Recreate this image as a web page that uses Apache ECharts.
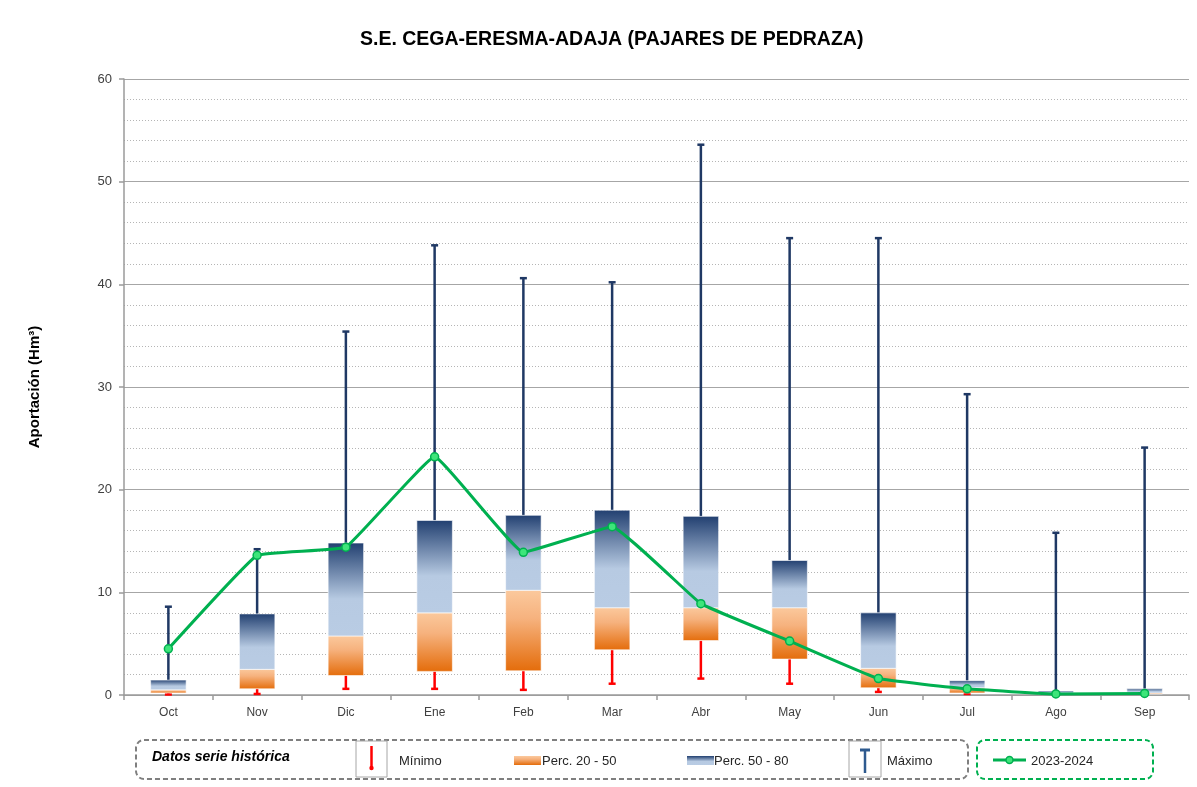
<!DOCTYPE html>
<html>
<head>
<meta charset="utf-8">
<script src="https://cdn.jsdelivr.net/npm/echarts@6/dist/echarts.min.js"></script>
<style>
html, body { margin: 0; padding: 0; background: #fff; }
#main { width: 1197px; height: 787px; }
</style>
</head>
<body>
<div id="main"></div>
<script>
// meses del año hidrológico
var months = ['Oct', 'Nov', 'Dic', 'Ene', 'Feb', 'Mar', 'Abr', 'May', 'Jun', 'Jul', 'Ago', 'Sep'];

// serie histórica (Hm3)
var minimo = [0.05, 0.1, 0.6, 0.6, 0.5, 1.1, 1.6, 1.1, 0.3, 0.1, 0.0, 0.05];
var perc20 = [0.2, 0.6, 1.9, 2.3, 2.35, 4.4, 5.3, 3.5, 0.7, 0.2, 0.05, 0.1];
var perc50 = [0.5, 2.5, 5.75, 8.0, 10.2, 8.5, 8.5, 8.5, 2.6, 0.7, 0.15, 0.2];
var perc80 = [1.45, 7.9, 14.8, 17.0, 17.5, 18.0, 17.4, 13.1, 8.0, 1.4, 0.4, 0.6];
var maximo = [8.6, 14.2, 35.4, 43.8, 40.6, 40.2, 53.6, 44.5, 44.5, 29.3, 15.8, 24.1];

// año actual
var actual = [4.5, 13.6, 14.4, 23.2, 13.9, 16.4, 8.9, 5.25, 1.6, 0.6, 0.1, 0.15];

var boxData = months.map(function(m, i) {
    return [i, minimo[i], perc20[i], perc50[i], perc80[i], maximo[i]];
});

var chart = echarts.init(document.getElementById('main'));

function orangeGrad() {
    return new echarts.graphic.LinearGradient(0, 0, 0, 1, [
        {offset: 0, color: '#fbc99d'},
        {offset: 0.35, color: '#f6b27e'},
        {offset: 1, color: '#e46c0a'}
    ]);
}
function blueGrad() {
    return new echarts.graphic.LinearGradient(0, 0, 0, 1, [
        {offset: 0, color: '#213f70'},
        {offset: 0.6, color: '#b7cae2'},
        {offset: 1, color: '#b9cce4'}
    ]);
}

function renderBox(params, api) {
    var x = api.value(0);
    var pMin = api.coord([x, api.value(1)]);
    var p20 = api.coord([x, api.value(2)]);
    var p50 = api.coord([x, api.value(3)]);
    var p80 = api.coord([x, api.value(4)]);
    var pMax = api.coord([x, api.value(5)]);
    var w = api.size([1, 0])[0] * 0.4;
    var cx = p20[0];
    return {
        type: 'group',
        children: [
            // whisker maximo
            {type: 'line', shape: {x1: cx, y1: p80[1], x2: cx, y2: pMax[1]},
             style: {stroke: '#1f3864', lineWidth: 2.5}},
            {type: 'line', shape: {x1: cx - 3.5, y1: pMax[1], x2: cx + 3.5, y2: pMax[1]},
             style: {stroke: '#1f3864', lineWidth: 2.5}},
            // whisker minimo
            {type: 'line', shape: {x1: cx, y1: p20[1], x2: cx, y2: pMin[1]},
             style: {stroke: '#ff0000', lineWidth: 2.5}},
            {type: 'line', shape: {x1: cx - 3.5, y1: pMin[1], x2: cx + 3.5, y2: pMin[1]},
             style: {stroke: '#ff0000', lineWidth: 2.5}},
            // perc 20 - 50
            {type: 'rect', shape: {x: cx - w / 2, y: p50[1], width: w, height: p20[1] - p50[1]},
             style: {fill: orangeGrad(), stroke: 'rgba(255,255,255,0.6)', lineWidth: 1}},
            // perc 50 - 80
            {type: 'rect', shape: {x: cx - w / 2, y: p80[1], width: w, height: p50[1] - p80[1]},
             style: {fill: blueGrad(), stroke: 'rgba(255,255,255,0.6)', lineWidth: 1}}
        ]
    };
}

var txt = {fontFamily: 'Liberation Sans', fontSize: 13, fill: '#262626'};

var option = {
    backgroundColor: '#fff',
    animation: false,
    title: {
        text: 'S.E. CEGA-ERESMA-ADAJA (PAJARES DE PEDRAZA)',
        left: 355,
        top: 25,
        textStyle: {fontFamily: 'Liberation Sans', fontWeight: 'bold', fontSize: 19.5, color: '#000'}
    },
    grid: {left: 124, right: 8, top: 79, bottom: 92},
    xAxis: {
        type: 'category',
        data: months,
        axisLine: {lineStyle: {color: '#9a9a9a', width: 1.5}},
        axisTick: {show: true, length: 5, lineStyle: {color: '#9a9a9a', width: 1.5}},
        axisLabel: {color: '#404040', fontFamily: 'Liberation Sans', fontSize: 12, margin: 12}
    },
    yAxis: {
        type: 'value',
        min: 0,
        max: 60,
        interval: 10,
        name: 'Aportación (Hm³)',
        nameLocation: 'middle',
        nameGap: 82,
        nameTextStyle: {fontFamily: 'Liberation Sans', fontWeight: 'bold', fontSize: 15, color: '#000'},
        axisLine: {show: true, lineStyle: {color: '#9a9a9a', width: 1.5}},
        axisTick: {show: true, length: 5, lineStyle: {color: '#9a9a9a', width: 1.5}},
        axisLabel: {color: '#404040', fontFamily: 'Liberation Sans', fontSize: 13, margin: 12},
        splitLine: {lineStyle: {color: '#a6a6a6', width: 1.2}},
        minorTick: {show: false, splitNumber: 5},
        minorSplitLine: {show: true, lineStyle: {color: '#b5b5b5', type: [1, 2], width: 1}}
    },
    series: [
        {
            name: 'Histórico',
            type: 'custom',
            renderItem: renderBox,
            encode: {x: 0, y: [1, 2, 3, 4, 5]},
            data: boxData,
            z: 2
        },
        {
            name: '2023-2024',
            type: 'line',
            data: actual,
            smooth: 0.08,
            symbol: 'circle',
            symbolSize: 8,
            lineStyle: {color: '#00b050', width: 3},
            itemStyle: {color: '#3ee57a', borderColor: '#00b050', borderWidth: 1.5},
            z: 5
        }
    ],
    graphic: [
        {type: 'rect', shape: {x: 136, y: 740, width: 832, height: 39, r: 8},
         style: {fill: 'none', stroke: '#7f7f7f', lineWidth: 2, lineDash: [5, 3]}},
        {type: 'rect', shape: {x: 977, y: 740, width: 176, height: 39, r: 8},
         style: {fill: 'none', stroke: '#00b050', lineWidth: 2, lineDash: [5, 3]}},
        {type: 'text', x: 152, y: 757,
         style: {text: 'Datos serie histórica', fontFamily: 'Liberation Sans', fontSize: 14, fontWeight: 'bold', fontStyle: 'italic', fill: '#000', verticalAlign: 'middle'}},
        // minimo
        {type: 'rect', shape: {x: 356, y: 741, width: 31, height: 36},
         style: {fill: '#fff', stroke: '#a6a6a6', lineWidth: 1}},
        {type: 'line', shape: {x1: 371.5, y1: 746, x2: 371.5, y2: 768},
         style: {stroke: '#ff0000', lineWidth: 2.5}},
        {type: 'circle', shape: {cx: 371.5, cy: 768, r: 2.2}, style: {fill: '#ff0000'}},
        {type: 'text', x: 399, y: 761, style: Object.assign({text: 'Mínimo', verticalAlign: 'middle'}, txt)},
        // perc 20-50
        {type: 'rect', shape: {x: 514, y: 756, width: 27, height: 9}, style: {fill: orangeGrad()}},
        {type: 'text', x: 542, y: 761, style: Object.assign({text: 'Perc. 20 - 50', verticalAlign: 'middle'}, txt)},
        // perc 50-80
        {type: 'rect', shape: {x: 687, y: 756, width: 27, height: 9}, style: {fill: blueGrad()}},
        {type: 'text', x: 714, y: 761, style: Object.assign({text: 'Perc. 50 - 80', verticalAlign: 'middle'}, txt)},
        // maximo
        {type: 'rect', shape: {x: 849, y: 741, width: 32, height: 36},
         style: {fill: '#fff', stroke: '#a6a6a6', lineWidth: 1}},
        {type: 'line', shape: {x1: 865, y1: 750, x2: 865, y2: 773},
         style: {stroke: '#2e5a8f', lineWidth: 2.5}},
        {type: 'line', shape: {x1: 860, y1: 750, x2: 870, y2: 750},
         style: {stroke: '#2e5a8f', lineWidth: 3}},
        {type: 'text', x: 887, y: 761, style: Object.assign({text: 'Máximo', verticalAlign: 'middle'}, txt)},
        // 2023-2024
        {type: 'line', shape: {x1: 993, y1: 760, x2: 1026, y2: 760},
         style: {stroke: '#00b050', lineWidth: 3}},
        {type: 'circle', shape: {cx: 1009.5, cy: 760, r: 3.5},
         style: {fill: '#3ee57a', stroke: '#00b050', lineWidth: 1.5}},
        {type: 'text', x: 1031, y: 761, style: Object.assign({text: '2023-2024', verticalAlign: 'middle'}, txt)}
    ]
};

chart.setOption(option);
</script>
</body>
</html>
